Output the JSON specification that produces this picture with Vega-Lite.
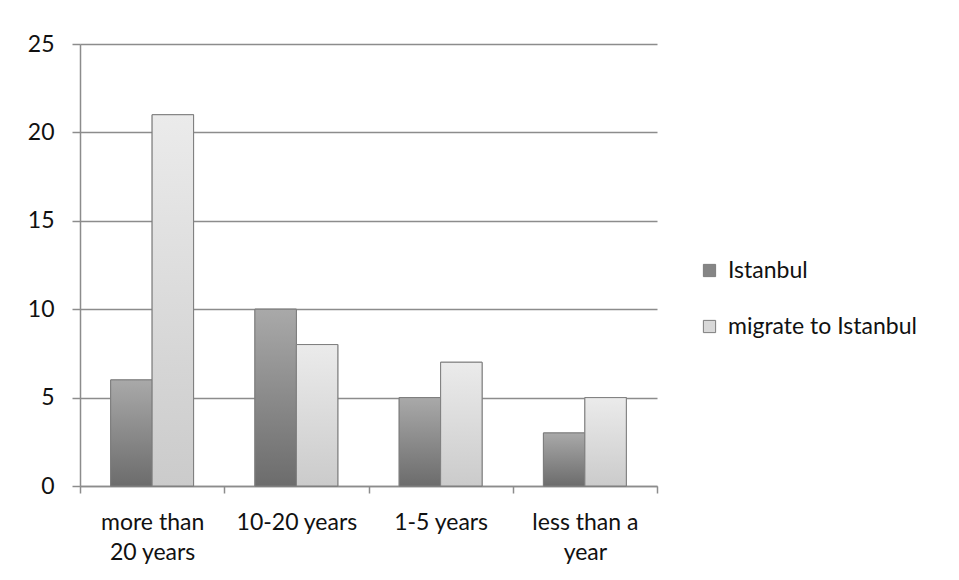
{
  "$schema": "https://vega.github.io/schema/vega-lite/v6.json",
  "width": 577,
  "height": 442,
  "autosize": {"type": "none"},
  "padding": {"left": 80, "top": 44, "right": 302, "bottom": 94},
  "background": "white",
  "config": {
    "view": {"stroke": null},
    "font": "Lato",
    "axis": {"labelFont": "Lato", "labelColor": "#111111"},
    "legend": {"labelFont": "Lato", "labelColor": "#111111"}
  },
  "data": {
    "values": [
      {"period": "more than 20 years", "series": "Istanbul", "count": 6},
      {"period": "more than 20 years", "series": "migrate to Istanbul", "count": 21},
      {"period": "10-20 years", "series": "Istanbul", "count": 10},
      {"period": "10-20 years", "series": "migrate to Istanbul", "count": 8},
      {"period": "1-5 years", "series": "Istanbul", "count": 5},
      {"period": "1-5 years", "series": "migrate to Istanbul", "count": 7},
      {"period": "less than a year", "series": "Istanbul", "count": 3},
      {"period": "less than a year", "series": "migrate to Istanbul", "count": 5}
    ]
  },
  "encoding": {
    "x": {
      "field": "period",
      "type": "nominal",
      "sort": null,
      "title": null,
      "scale": {"paddingInner": 0, "paddingOuter": 0},
      "axis": {
        "tickBand": "extent",
        "labelAngle": 0,
        "labelFontSize": 23,
        "labelLineHeight": 30,
        "labelPadding": 18,
        "tickSize": 7,
        "tickColor": "#8c8c8c",
        "tickWidth": 1.5,
        "domainColor": "#8c8c8c",
        "domainWidth": 1.5,
        "labelExpr": "datum.label == 'more than 20 years' ? ['more than', '20 years'] : datum.label == 'less than a year' ? ['less than a', 'year'] : datum.label"
      }
    },
    "xOffset": {"field": "series", "type": "nominal", "scale": {"paddingInner": 0, "paddingOuter": 0.74}},
    "y": {
      "field": "count",
      "type": "quantitative",
      "title": null,
      "scale": {"domain": [0, 25], "nice": false},
      "axis": {
        "values": [0, 5, 10, 15, 20, 25],
        "labelFontSize": 23,
        "labelPadding": 18,
        "tickSize": 8,
        "tickColor": "#8c8c8c",
        "tickWidth": 1.5,
        "domainColor": "#8c8c8c",
        "domainWidth": 1.5,
        "grid": true,
        "gridColor": "#8c8c8c",
        "gridWidth": 1.5
      }
    },
    "color": {
      "field": "series",
      "type": "nominal",
      "title": null,
      "scale": {
        "domain": ["Istanbul", "migrate to Istanbul"],
        "range": ["#858585", "#d8d8d8"]
      },
      "legend": {
        "orient": "none",
        "legendX": 618,
        "legendY": 215,
        "symbolType": "square",
        "symbolSize": 150,
        "symbolOpacity": 1,
        "symbolStrokeColor": "#7d7d7d",
        "symbolStrokeWidth": 1,
        "labelFontSize": 23,
        "labelOffset": 7,
        "rowPadding": 32,
        "labelLimit": 300
      }
    }
  },
  "layer": [
    {"mark": {"type": "bar", "stroke": "#7d7d7d", "strokeWidth": 1, "opacity": 1}},
    {
      "mark": {"type": "bar", "stroke": "#7d7d7d", "strokeWidth": 1},
      "encoding": {
        "fill": {
          "condition": {
            "test": "datum.series === 'Istanbul'",
            "value": {"gradient": "linear", "x1": 0, "y1": 0, "x2": 0, "y2": 1, "stops": [{"offset": 0, "color": "#a9a9a9"}, {"offset": 1, "color": "#6c6c6c"}]}
          },
          "value": {"gradient": "linear", "x1": 0, "y1": 0, "x2": 0, "y2": 1, "stops": [{"offset": 0, "color": "#ebebeb"}, {"offset": 1, "color": "#cbcbcb"}]}
        }
      }
    }
  ]
}
